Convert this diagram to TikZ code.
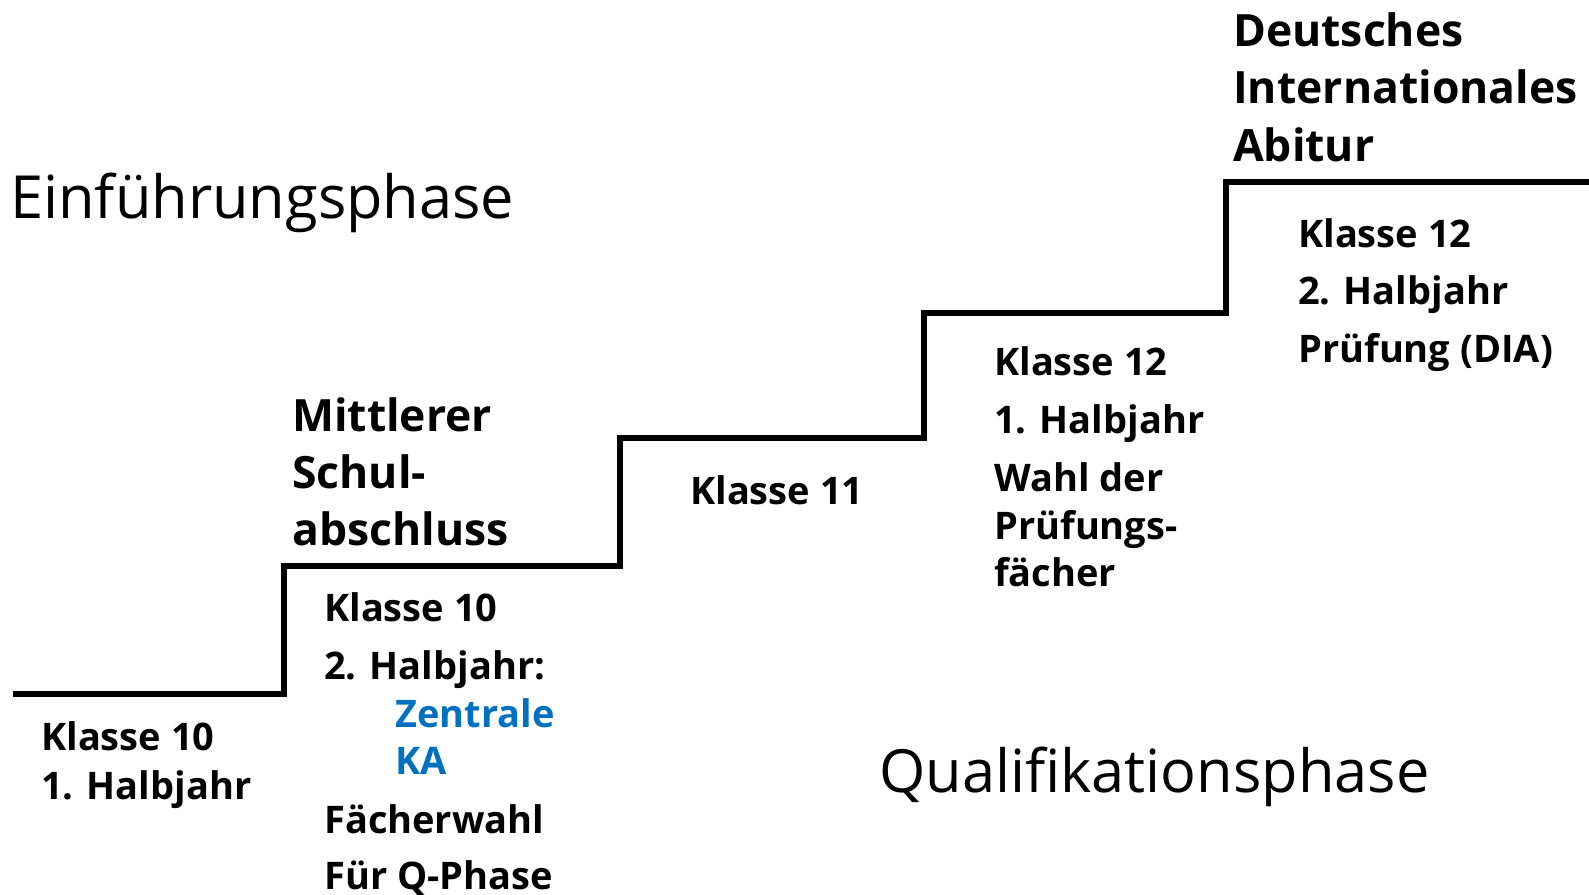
\documentclass[tikz,border=0pt]{standalone}
\usepackage{fontspec}
\setmainfont{Open Sans}
\definecolor{kablue}{HTML}{0070C0}
\begin{document}
\begin{tikzpicture}[x=1pt,y=-1pt,
  lbl/.style={inner sep=0pt,anchor=base west,font=\bfseries\fontsize{38}{46}\selectfont},
  head/.style={inner sep=0pt,anchor=base west,font=\bfseries\fontsize{44.5}{54}\selectfont},
  phase/.style={inner sep=0pt,anchor=base west,font=\fontsize{59.5}{70}\selectfont},
  stair/.style={line width=6pt,line join=miter}]
\useasboundingbox (0,0) rectangle (1589,894);
% staircase
\coordinate (s0) at (13,694);
\coordinate (s1) at (284,694);
\coordinate (s2) at (284,566);
\coordinate (s3) at (620,566);
\coordinate (s4) at (620,438);
\coordinate (s5) at (924,438);
\coordinate (s6) at (924,313);
\coordinate (s7) at (1226,313);
\coordinate (s8) at (1226,182);
\coordinate (s9) at (1589,182);
\draw[stair] (s0) -- (s1) -- (s2) -- (s3) -- (s4) -- (s5) -- (s6) -- (s7) -- (s8) -- (s9);
% phases
\node[phase] (ein) at (10,218) {Einführungsphase};
\node[phase] (qual) at (879,792) {Qualifikationsphase};
% step 1
\node[lbl] (a1) at (41,750) {Klasse 10};
\node[lbl] (a2) at (41,799) {1. Halbjahr};
% step 2
\node[head] (m1) at (292,431) {Mittlerer};
\node[head] (m2) at (292,488) {Schul-};
\node[head] (m3) at (292,545) {abschluss};
\node[lbl] (b1) at (324,621) {Klasse 10};
\node[lbl] (b2) at (324,679) {2. Halbjahr:};
\node[lbl,text=kablue] (b3) at (395,727) {Zentrale};
\node[lbl,text=kablue] (b4) at (395,774) {KA};
\node[lbl] (b5) at (324,833) {Fächerwahl};
\node[lbl] (b6) at (324,889) {Für Q-Phase};
% step 3
\node[lbl] (c1) at (690,504) {Klasse 11};
% step 4
\node[lbl] (d1) at (994,375) {Klasse 12};
\node[lbl] (d2) at (994,433) {1. Halbjahr};
\node[lbl] (d3) at (994,491) {Wahl der};
\node[lbl] (d4) at (994,539) {Prüfungs-};
\node[lbl] (d5) at (994,586) {fächer};
% step 5
\node[head] (e1) at (1233,46) {Deutsches};
\node[head] (e2) at (1233,103) {Internationales};
\node[head] (e3) at (1233,161) {Abitur};
\node[lbl] (f1) at (1298,247) {Klasse 12};
\node[lbl] (f2) at (1298,304) {2. Halbjahr};
\node[lbl] (f3) at (1298,362) {Prüfung (DIA)};
\end{tikzpicture}
\end{document}
